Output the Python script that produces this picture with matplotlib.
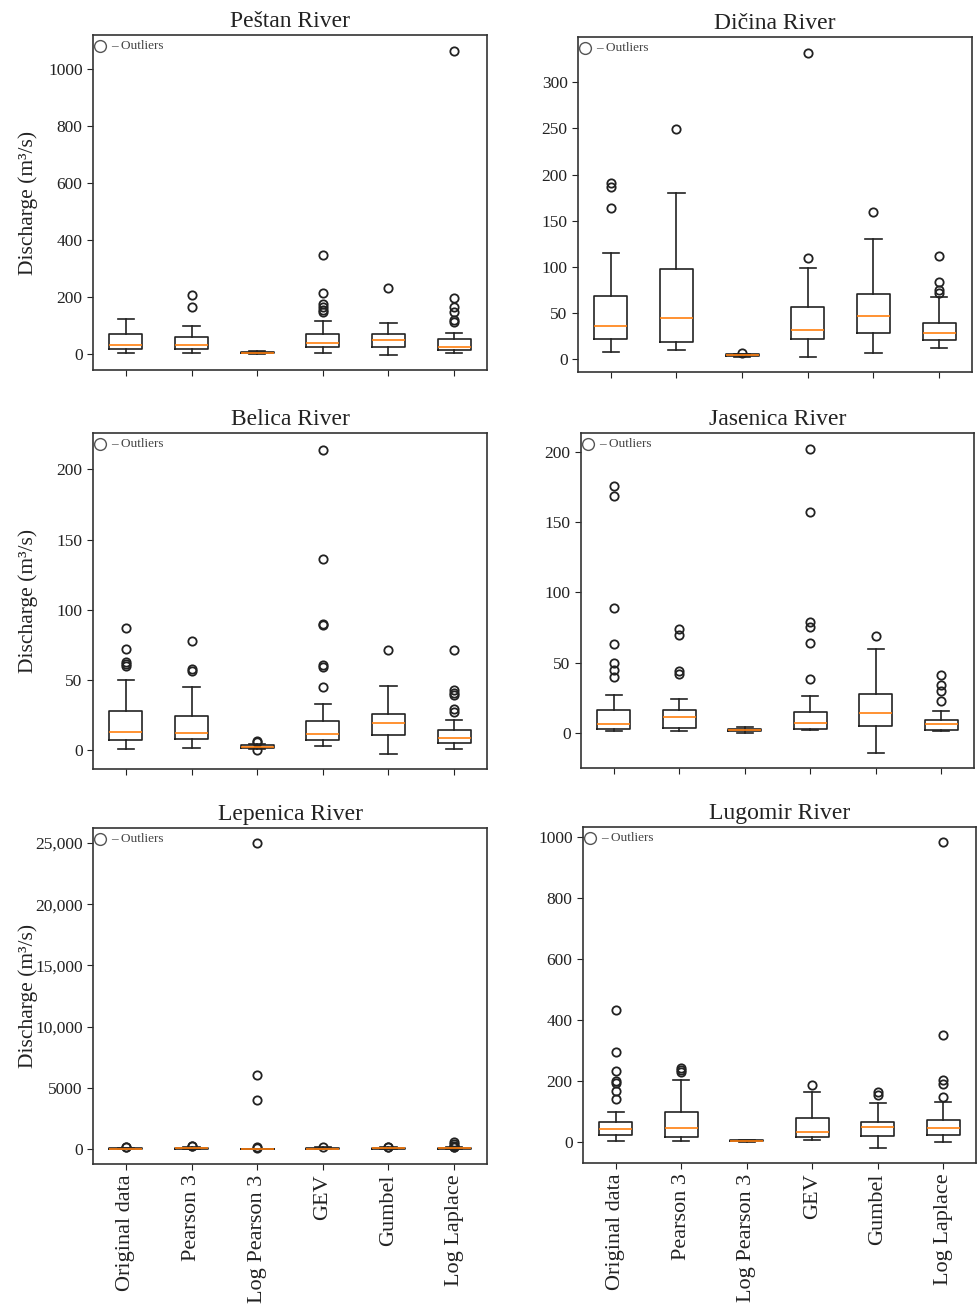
import matplotlib
matplotlib.use("Agg")
import matplotlib.pyplot as plt
from matplotlib.ticker import FuncFormatter

plt.rcParams['font.family'] = ['Liberation Serif', 'DejaVu Serif']

CATEGORIES = ["Original data", "Pearson 3", "Log Pearson 3", "GEV", "Gumbel", "Log Laplace"]
RIVERS = ["Peštan River", "Dičina River", "Belica River", "Jasenica River", "Lepenica River", "Lugomir River"]

# Peštan
PESTAN_MED = [31, 31, 5, 37, 49, 26]
PESTAN_Q1 = [16, 16, 3, 23, 23, 13]
PESTAN_Q3 = [69, 58, 8, 69, 71, 51]
PESTAN_WLO = [5, 5, 1, 5, -2, 2]
PESTAN_WHI = [122, 100, 10, 115, 109, 75]
PESTAN_FLIERS = [[], [207, 165], [], [349, 213, 175, 165, 156, 148], [233],
                 [1063, 198, 165, 148, 119, 113]]

# Dičina
DICINA_MED = [36, 45, 4, 31, 47, 28]
DICINA_Q1 = [22, 18, 3, 22, 28, 20.5]
DICINA_Q3 = [68, 98, 5, 56, 70, 39]
DICINA_WLO = [8, 10, 2, 2.5, 7, 11.5]
DICINA_WHI = [115, 180, 6, 99, 130.5, 67]
DICINA_FLIERS = [[191, 186, 164], [249], [7], [332, 110], [159], [112, 84, 75, 72]]

# Belica
BELICA_MED = [13, 12, 2.5, 11.6, 19, 8.8]
BELICA_Q1 = [7, 7.6, 1.5, 7, 11, 5]
BELICA_Q3 = [27.5, 24.5, 3.5, 20.7, 25.4, 14.3]
BELICA_WLO = [1, 1.7, 0.8, 3, -2.9, 0.5]
BELICA_WHI = [50, 45, 4.5, 33, 46, 21.4]
BELICA_FLIERS = [[87, 72, 63, 61, 60], [78, 57.5, 56], [6.4, 5.4, 0],
                 [214, 136, 90, 89, 60.5, 59, 44.7], [71], [71, 42.8, 40.9, 39, 29, 27]]

# Jasenica
JASENICA_MED = [6.6, 11.4, 2, 7, 14, 6]
JASENICA_Q1 = [3, 3.8, 1.5, 3, 5, 2.4]
JASENICA_Q3 = [16.6, 16.6, 3, 15, 28, 9.5]
JASENICA_WLO = [1.2, 1.2, 0.2, 2, -14, 1.2]
JASENICA_WHI = [27, 24, 4.3, 26, 60, 15.4]
JASENICA_FLIERS = [[176, 168.5, 89, 63, 50, 45, 40], [74, 70, 44, 42], [],
                   [202, 157.5, 79, 75.4, 64, 38.7], [69], [41, 34, 30, 23]]

# Lepenica
LEPENICA_MED = [40, 45, 5, 35, 45, 42]
LEPENICA_Q1 = [22, 18, 3, 20, 25, 22]
LEPENICA_Q3 = [65, 95, 7, 80, 68, 70]
LEPENICA_WLO = [3, 2, 1, 5, -20, 1]
LEPENICA_WHI = [100, 200, 10, 165, 130, 130]
LEPENICA_FLIERS = [[190, 140], [240, 230], [25000, 6050, 4030, 190, 120], [190],
                   [160, 155], [600, 420, 205, 190, 148]]

# Lugomir
LUGOMIR_MED = [43, 45, 4, 32, 48, 46]
LUGOMIR_Q1 = [24, 15, 2, 17.5, 18.6, 24]
LUGOMIR_Q3 = [66, 99.5, 6, 80, 66, 71]
LUGOMIR_WLO = [2, 2, 1, 7.7, -19.7, 0]
LUGOMIR_WHI = [99, 203, 8, 164, 128, 131]
LUGOMIR_FLIERS = [[434, 295, 234, 199, 193, 166, 141], [243, 237, 228], [], [188],
                  [163, 155], [984, 352, 204, 191, 148]]

DATA = [
    (PESTAN_MED, PESTAN_Q1, PESTAN_Q3, PESTAN_WLO, PESTAN_WHI, PESTAN_FLIERS),
    (DICINA_MED, DICINA_Q1, DICINA_Q3, DICINA_WLO, DICINA_WHI, DICINA_FLIERS),
    (BELICA_MED, BELICA_Q1, BELICA_Q3, BELICA_WLO, BELICA_WHI, BELICA_FLIERS),
    (JASENICA_MED, JASENICA_Q1, JASENICA_Q3, JASENICA_WLO, JASENICA_WHI, JASENICA_FLIERS),
    (LEPENICA_MED, LEPENICA_Q1, LEPENICA_Q3, LEPENICA_WLO, LEPENICA_WHI, LEPENICA_FLIERS),
    (LUGOMIR_MED, LUGOMIR_Q1, LUGOMIR_Q3, LUGOMIR_WLO, LUGOMIR_WHI, LUGOMIR_FLIERS),
]

YTICKS = [
    [0, 200, 400, 600, 800, 1000],
    [0, 50, 100, 150, 200, 250, 300],
    [0, 50, 100, 150, 200],
    [0, 50, 100, 150, 200],
    [0, 5000, 10000, 15000, 20000, 25000],
    [0, 200, 400, 600, 800, 1000],
]
YLIMS = [(-56, 1119), (-14, 349), (-13.5, 226), (-25, 213.5), (-1225, 26225), (-69, 1033)]

W, H = 978, 1306
# axes rectangles in pixels: left, top, right, bottom
RECTS_PX = [
    (93, 35, 487, 370),
    (578, 37, 972, 372),
    (93, 433, 487, 769),
    (581, 433, 974, 768),
    (93, 828, 487, 1164),
    (583, 827, 976, 1163),
]

fig = plt.figure(figsize=(W / 100, H / 100), dpi=100)
fig.patch.set_facecolor('white')

fmt = FuncFormatter(lambda v, p: f"{v:,.0f}" if abs(v) >= 10000 else f"{v:.0f}")

for i, (name, d) in enumerate(zip(RIVERS, DATA)):
    l, t, r, b = RECTS_PX[i]
    ax = fig.add_axes([l / W, 1 - b / H, (r - l) / W, (b - t) / H])
    med, q1, q3, wlo, whi, fl = d
    stats = []
    for k in range(len(CATEGORIES)):
        stats.append(dict(med=med[k], q1=q1[k], q3=q3[k], whislo=wlo[k], whishi=whi[k],
                          fliers=fl[k], label=CATEGORIES[k]))
    ax.bxp(stats, positions=range(1, 7), widths=0.5,
           boxprops=dict(color='#222222', linewidth=1.2),
           whiskerprops=dict(color='#222222', linewidth=1.2),
           capprops=dict(color='#222222', linewidth=1.2),
           medianprops=dict(color='#ff7f0e', linewidth=1.2),
           flierprops=dict(marker='o', markerfacecolor='none', markeredgecolor='#222222',
                           markersize=6, markeredgewidth=1.3))
    ax.set_xlim(0.5, 6.5)
    ax.set_ylim(*YLIMS[i])
    ax.set_yticks(YTICKS[i])
    ax.yaxis.set_major_formatter(fmt)
    ax.tick_params(axis='y', labelsize=12.5, colors='#222222', length=4)
    ax.tick_params(axis='x', length=4, colors='#222222')
    if i >= 4:
        ax.set_xticklabels(CATEGORIES, rotation=90, fontsize=16, color='#222222')
    else:
        ax.set_xticklabels([])
    for sp in ax.spines.values():
        sp.set_color('#333333')
        sp.set_linewidth(1.2)
    ax.set_title(name, fontsize=17, color='#222222', pad=6)
    if i % 2 == 0:
        ax.set_ylabel("Discharge (m³/s)", fontsize=15.5, color='#222222')
        ax.yaxis.set_label_coords(-0.14, 0.5)
    # outlier legend
    ax.plot([0.018], [0.967], marker='o', markersize=8.5, markerfacecolor='none',
            markeredgecolor='#555555', markeredgewidth=1.0, transform=ax.transAxes,
            clip_on=False, linestyle='none')
    ax.text(0.045, 0.967, "– Outliers", transform=ax.transAxes, fontsize=9.5,
            color='#444444', va='center', ha='left')

fig.savefig("out.png", dpi=100, facecolor='white')
